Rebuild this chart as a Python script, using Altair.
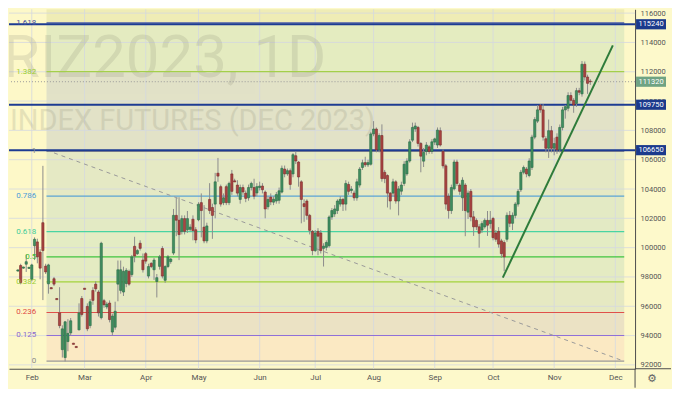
import altair as alt
import pandas as pd

# ---------------- data ----------------
opens = [98400, 98780, 98600, 98870, 98580, 97840, 100130, 100390, 99690, 101700,
         98740, 97530, 97270, 97880, 96530, 95550, 93040, 92500, 93590, 94180,
         93480, 93260, 94390, 96530, 97230, 95990, 94680, 97080, 97510, 96970,
         95220, 96380, 95950, 96220, 94240, 94570, 97510, 97080, 96970, 97550,
         98380, 98160, 100090, 99590, 100300, 99150, 99590, 98060, 98930, 98490,
         97690, 98720, 99940, 97770, 98710, 99050, 99630, 102200, 101870, 101110,
         101980, 101220, 101250, 101940, 101220, 101900, 103070, 101400, 100460, 103290,
         102740, 102970, 105080, 104160, 103070, 104160, 103070, 105030, 104560, 104270,
         103290, 104100, 103720, 103400, 104100, 104100, 103730, 104100, 104200, 103790,
         102790, 103450, 103100, 103180, 103230, 103790, 105360, 105030, 105250, 105030,
         106270, 105840, 104490, 103000, 103180, 102200, 101110, 99800, 101110, 101000,
         99950, 100020, 100130, 102090, 102300, 102530, 102970, 103290, 102970, 104310,
         103900, 103720, 103400, 104270, 105470, 105800, 105650, 105690, 107760, 108090,
         106670, 107650, 105140, 104920, 103720, 103720, 104490, 103180, 103850, 104380,
         105030, 105910, 107330, 108100, 108200, 107110, 105900, 106560, 106880, 106560,
         107200, 107000, 107980, 106560, 105580, 103510, 102530, 104010, 105840, 104270,
         103400, 104270, 102420, 103840, 102100, 101860, 101420, 101200, 101420, 101860,
         101640, 101990, 101000, 101110, 100460, 100350, 100570, 102200, 101660, 102200,
         102970, 103950, 105140, 105360, 104920, 105470, 107540, 108630, 109730, 109400,
         107430, 106780, 107980, 106780, 107540, 106670, 108200, 109400, 109510, 110380,
         110050, 109840, 110710, 110490, 112510, 111640, 111360]
highs = [98500, 98900, 98700, 99520, 98680, 98900, 100700, 100610, 99900, 105580,
         98900, 98900, 97300, 98000, 96550, 97300, 94700, 95000, 95120, 95200,
         93500, 93280, 96200, 96700, 97250, 96200, 96500, 97300, 97700, 97100,
         100400, 96500, 96300, 96400, 95500, 96310, 99120, 99120, 98700, 98600,
         98500, 99500, 100740, 99900, 100500, 99600, 99700, 98900, 99000, 99300,
         98200, 99500, 100100, 98800, 99500, 99300, 102640, 103400, 103440, 102200,
         102200, 102500, 101600, 102200, 101400, 103100, 103700, 102900, 101700, 104400,
         103000, 105100, 106120, 104300, 103700, 104300, 104500, 105300, 104700, 104600,
         104300, 104300, 103900, 104300, 104500, 104700, 104400, 104500, 104400, 103900,
         103500, 103700, 103500, 103800, 104100, 105600, 105600, 105400, 105400, 106450,
         106560, 105900, 104600, 103300, 103300, 102300, 101200, 101200, 101330, 101200,
         100300, 100500, 102200, 102700, 102900, 103300, 103500, 103400, 104600, 104500,
         104200, 103900, 104700, 105500, 106000, 106200, 106000, 107900, 108630, 108200,
         107800, 108410, 105300, 105000, 103800, 104700, 104600, 104200, 104500, 105900,
         106100, 107400, 108530, 108530, 108300, 107200, 106800, 107200, 107000, 107400,
         107500, 108200, 108200, 106700, 105700, 103700, 104300, 106000, 106000, 104400,
         104800, 104400, 103900, 104000, 102500, 102000, 101600, 101800, 102000, 102500,
         102500, 102100, 101200, 101400, 100600, 100500, 102400, 102500, 102400, 103100,
         104000, 105300, 105600, 105500, 106100, 107700, 108900, 109730, 109790, 109790,
         107600, 108740, 108300, 107500, 107800, 108400, 109600, 109730, 110600, 110600,
         110200, 110900, 110900, 112730, 112700, 111800, 111500]
lows = [98380, 97500, 98560, 98340, 98550, 97700, 99150, 98930, 97840, 96420,
        98200, 96860, 97200, 97380, 96450, 94500, 92500, 92240, 92930, 94000,
        93400, 93180, 94350, 95300, 97150, 94300, 94500, 96100, 97000, 95300,
        95100, 95900, 95800, 94900, 94000, 94400, 96340, 96860, 96700, 97300,
        97400, 98000, 99000, 99500, 99800, 98300, 98900, 97900, 98600, 97800,
        96600, 98500, 97900, 97600, 98600, 98900, 99500, 100780, 99150, 100900,
        100900, 101000, 101100, 100500, 100300, 101800, 100700, 100300, 100300, 102300,
        100600, 102000, 104490, 102800, 102900, 102900, 102900, 103600, 104500, 103500,
        103000, 103600, 103100, 103200, 103900, 103300, 103500, 103900, 103700, 102000,
        102600, 102900, 102900, 103000, 103000, 103700, 104800, 104900, 103950, 104800,
        105700, 104160, 101660, 101760, 101900, 100900, 99480, 99700, 99480, 99600,
        98710, 99800, 100000, 101900, 102100, 102300, 102800, 102500, 102530, 103600,
        103700, 103200, 103200, 104100, 105300, 105500, 105500, 105600, 107600, 106500,
        106500, 104500, 104400, 102740, 102600, 103500, 103000, 102200, 103600, 104200,
        104900, 105800, 107200, 107900, 106900, 105140, 105500, 106300, 106400, 106400,
        107000, 106800, 106900, 105400, 102600, 101980, 102300, 103900, 104200, 103600,
        102500, 100780, 101960, 101800, 100800, 101200, 100000, 101000, 101300, 100800,
        101300, 100500, 100400, 100000, 99300, 98400, 100400, 101400, 101200, 102000,
        102800, 103800, 105000, 104800, 104800, 105300, 107400, 108500, 109200, 107300,
        106500, 106120, 106500, 106300, 106400, 106500, 108000, 108800, 109300, 109800,
        109200, 109600, 110400, 110300, 111400, 110490, 111100]
closes = [98480, 97620, 98680, 99040, 98660, 98820, 100570, 99370, 98600, 99800,
          98340, 98820, 97190, 97510, 96450, 94680, 94460, 94940, 94150, 95010,
          93400, 93180, 95550, 95440, 97150, 94460, 96310, 96400, 97190, 95550,
          100300, 96100, 96150, 95090, 95330, 95660, 98490, 98490, 98380, 98450,
          97510, 99370, 99430, 99800, 99950, 98490, 99080, 98710, 98710, 99150,
          97950, 99370, 98060, 98710, 99370, 99220, 102200, 101870, 100890, 101980,
          101110, 101980, 101400, 101160, 100520, 102960, 102530, 100460, 101480, 102530,
          102200, 104490, 104880, 102970, 103400, 103070, 104380, 103840, 104480, 103720,
          104100, 103800, 103360, 104100, 104380, 103510, 104160, 104200, 103950, 102640,
          103290, 103120, 103300, 103620, 103880, 105410, 105030, 105250, 104310, 106340,
          105910, 104820, 103290, 102800, 102200, 101180, 99800, 101000, 100780, 99800,
          100100, 100350, 102090, 102530, 102640, 103180, 103290, 102970, 104380, 103840,
          104000, 103400, 104490, 105360, 105790, 105650, 105800, 107760, 108090, 106670,
          107650, 104710, 104710, 103720, 103180, 104490, 103180, 104010, 104270, 105690,
          105910, 107220, 108200, 108300, 107110, 106240, 106500, 107000, 106560, 107220,
          107420, 108020, 107000, 105580, 102970, 102530, 104100, 105840, 104380, 103840,
          104600, 102530, 103720, 102090, 101420, 101420, 100980, 101640, 101860, 101530,
          101860, 100680, 100570, 100240, 99590, 99370, 102200, 101660, 102200, 102970,
          103840, 105140, 105470, 105030, 105910, 107540, 108740, 109400, 109400, 107540,
          106780, 107980, 106780, 107100, 106670, 108200, 109400, 109620, 110380, 110050,
          109730, 110710, 110600, 112510, 111640, 111210, 111320]

month_names = ["Feb", "Mar", "Apr", "May", "Jun", "Jul", "Aug", "Sep", "Oct", "Nov", "Dec"]
month_bars = [5, 24, 46, 65, 87, 107, 128, 150, 171, 193, 215]
price_ticks = [92000, 94000, 96000, 98000, 100000, 102000, 104000, 106000,
               108000, 110000, 112000, 114000, 116000]

fib_labels = ["0", "0.125", "0.236", "0.382", "0.5", "0.618", "0.786", "1", "1.382", "1.618"]
fib_prices = [92260, 94005, 95575, 97670, 99370, 101090, 103510, 106560, 112010, 115340]
fib_colors = ["#9a9a9a", "#9070d8", "#e0504a", "#a2d23c", "#3fc43f", "#48d4a2",
              "#5aa4d4", "#8e8e8e", "#a4cf4a", "#4a5aa8"]
fib_label_colors = ["#8a8a8a", "#8a68d0", "#e04a44", "#9acd32", "#38b838", "#3ccc98",
                    "#4a9cd8", "#8a8a8a", "#9acd32", "#3f4f9f"]
fib_span = [10.3, 218.2]
band_top = 116262
band_colors = ["#fbe9c3", "#ebe2c4", "#e6e9c2", "#e4ebc2", "#e3ecc3", "#e3eac4",
               "#e5e9c4", "#e2e2c7", "#e4ecc0", "#efecb5"]

level_prices = [115240, 109750, 106650]
level_texts = ["115240", "109750", "106650"]
last_price = 111320

diag_bars = [10.3, 218.0]
diag_prices = [106650, 92260]
trend_bars = [174.5, 214.1]
trend_prices = [97950, 113800]

watermark_main = "RIZ2023, 1D"
watermark_sub = "INDEX FUTURES (DEC 2023)"

# ---------------- layout ----------------
W, H = 627, 360
SX, SY = W / 643, H / 375
FONT = "Roboto"

xs = alt.Scale(domain=[-1.4, 220.3], nice=False, zero=False)
ys = alt.Scale(domain=[91737, 116262], nice=False, zero=False)

label_expr = ("[" + ",".join(f"'{m}'" for m in month_names) + "][indexof(["
              + ",".join(str(b) for b in month_bars) + "], datum.value)]")

x_axis = alt.Axis(values=month_bars, labelExpr=label_expr, ticks=False, grid=False,
                  domainColor="#4d4d4d", labelColor="#555555", labelFontSize=8,
                  labelFont=FONT, labelPadding=5, title=None, labelFlush=False,
                  labelOverlap=False)
y_axis = alt.Axis(orient="right", values=price_ticks, format="d", ticks=False, grid=False,
                  domainColor="#4d4d4d", labelColor="#555555", labelFontSize=7.5,
                  labelFont=FONT, labelPadding=5, title=None, labelOverlap=False)


def X(field):
    return alt.X(field, type="quantitative", scale=xs, axis=x_axis, title=None)


def Y(field):
    return alt.Y(field, type="quantitative", scale=ys, axis=y_axis, title=None)


candles = pd.DataFrame({"bar": list(range(len(closes))), "open": opens, "high": highs,
                        "low": lows, "close": closes})
candles["dir"] = ["up" if c >= o else "down" for o, c in zip(opens, closes)]

bands = pd.DataFrame({
    "x1": [fib_span[0]] * len(fib_prices),
    "x2": [fib_span[1]] * len(fib_prices),
    "lo": fib_prices,
    "hi": fib_prices[1:] + [band_top],
    "color": band_colors,
})
fibs = pd.DataFrame({
    "x1": [fib_span[0]] * len(fib_prices),
    "x2": [fib_span[1]] * len(fib_prices),
    "price": fib_prices, "label": fib_labels,
    "color": fib_colors, "lcolor": fib_label_colors,
})

band_layer = alt.Chart(bands).mark_rect().encode(
    x=X("x1"), x2="x2:Q", y=Y("lo"), y2="hi:Q",
    color=alt.Color("color:N", scale=None),
)

hgrid = alt.Chart(pd.DataFrame({"p": price_ticks})).mark_rule(
    color="#d4d8df", strokeWidth=1, opacity=0.8
).encode(y=Y("p"))
vgrid = alt.Chart(pd.DataFrame({"b": month_bars})).mark_rule(
    color="#d4d8df", strokeWidth=1, opacity=0.8
).encode(x=X("b"))

wm1 = alt.Chart(pd.DataFrame({"t": [watermark_main]})).mark_text(
    align="right", baseline="alphabetic", fontSize=60, font=FONT,
    color="#8a8a78", opacity=0.2, clip=True
).encode(x=alt.value(326 * SX), y=alt.value(71 * SY), text="t:N")
wm2 = alt.Chart(pd.DataFrame({"t": [watermark_sub]})).mark_text(
    align="left", baseline="alphabetic", fontSize=29, font=FONT,
    color="#8a8a78", opacity=0.2, clip=True
).encode(x=alt.value(1), y=alt.value(126 * SY), text="t:N")

fib_lines = alt.Chart(fibs).mark_rule(strokeWidth=1.2).encode(
    x=X("x1"), x2="x2:Q", y=Y("price"),
    color=alt.Color("color:N", scale=None),
)
fib_text = alt.Chart(fibs).mark_text(
    align="right", baseline="middle", fontSize=8, font=FONT
).encode(
    x=alt.value(28 * SX), y=Y("price"),
    text="label:N", color=alt.Color("lcolor:N", scale=None),
)

diag = alt.Chart(pd.DataFrame({"bar": diag_bars, "price": diag_prices})).mark_line(
    color="#9a9a9a", strokeDash=[4, 4], strokeWidth=1
).encode(x=X("bar"), y=Y("price"))

price_line = alt.Chart(pd.DataFrame({"p": [last_price]})).mark_rule(
    color="#9a9a9a", strokeDash=[1, 2], strokeWidth=1
).encode(y=Y("p"))

levels = pd.DataFrame({"p": level_prices, "t": level_texts})
level_lines = alt.Chart(levels).mark_rule(color="#1c3b93", strokeWidth=2).encode(y=Y("p"))

wicks = alt.Chart(candles).mark_rule(color="#8c8c8c", strokeWidth=1).encode(
    x=X("bar"), y=Y("low"), y2="high:Q",
)
bodies = alt.Chart(candles).mark_bar(size=2.2, strokeWidth=0.6).encode(
    x=X("bar"), y=Y("open"), y2="close:Q",
    color=alt.Color("dir:N", scale=alt.Scale(domain=["up", "down"], range=["#3f8f60", "#aa4442"]), legend=None),
    stroke=alt.Stroke("dir:N", scale=alt.Scale(domain=["up", "down"], range=["#2b6a46", "#7a2b2b"]), legend=None),
)

trend = alt.Chart(pd.DataFrame({"bar": trend_bars, "price": trend_prices})).mark_line(
    color="#2e7b3a", strokeWidth=2
).encode(x=X("bar"), y=Y("price"))

box_path = "M -1 -0.34 L 1 -0.34 L 1 0.34 L -1 0.34 Z"
tags = pd.DataFrame({
    "p": level_prices + [last_price],
    "t": level_texts + [str(last_price)],
    "c": ["#1b3a8c", "#1b3a8c", "#1b3a8c", "#6fa383"],
})
tag_boxes = alt.Chart(tags).mark_point(shape=box_path, filled=True, size=900, opacity=1).encode(
    x=alt.value(W + 16), y=Y("p"),
    color=alt.Color("c:N", scale=None),
)
tag_text = alt.Chart(tags).mark_text(
    color="white", fontSize=7.5, font=FONT, baseline="middle", align="center"
).encode(x=alt.value(W + 16), y=Y("p"), text="t:N")

sep_v = alt.Chart(pd.DataFrame({"k": [0]})).mark_rule(color="#4d4d4d").encode(
    x=alt.value(W), y=alt.value(H), y2=alt.value(H + 19))
sep_h = alt.Chart(pd.DataFrame({"k": [0]})).mark_rule(color="#4d4d4d").encode(
    x=alt.value(W), x2=alt.value(W + 36), y=alt.value(H))
gear = alt.Chart(pd.DataFrame({"t": ["\u2699"]})).mark_text(
    fontSize=11, font="DejaVu Sans", color="#666666"
).encode(x=alt.value(W + 17), y=alt.value(H + 10), text="t:N")

chart = alt.layer(
    band_layer, hgrid, vgrid, wm1, wm2, fib_lines, diag, price_line, level_lines,
    wicks, bodies, trend, fib_text, tag_boxes, tag_text, sep_v, sep_h, gear
).properties(
    width=W, height=H, padding=0, background="#fdf9cb"
).configure_view(stroke=None, fill="#fdf8c8")

chart.save("out.html", embed_options={"renderer": "svg", "actions": False})
